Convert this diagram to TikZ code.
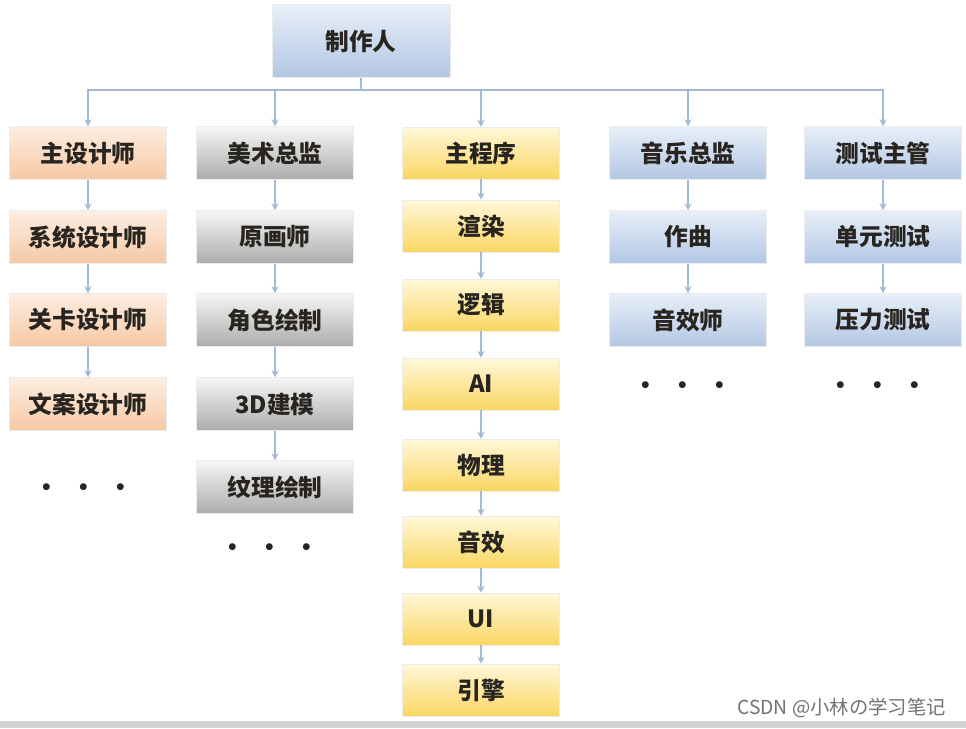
\documentclass[tikz,border=0pt]{standalone}
\usepackage{fontspec}
\setmainfont{Noto Sans CJK SC}
\usepackage{xcolor}
\usetikzlibrary{arrows.meta, positioning, calc}
\definecolor{bluetop}{RGB}{232, 239, 248}
\definecolor{bluebot}{RGB}{178, 199, 228}
\definecolor{peachtop}{RGB}{253, 238, 226}
\definecolor{peachbot}{RGB}{246, 200, 164}
\definecolor{greytop}{RGB}{246, 246, 246}
\definecolor{greybot}{RGB}{172, 172, 172}
\definecolor{yellowtop}{RGB}{255, 248, 218}
\definecolor{yellowbot}{RGB}{250, 214, 98}
\definecolor{linkblue}{RGB}{160, 186, 216}
\definecolor{inkdark}{RGB}{40, 36, 32}

\begin{document}
\begin{tikzpicture}[x=0.02cm, y=-0.02cm,
  rbox/.style={rectangle, minimum width=3.14cm, minimum height=1.06cm,
    font=\fontsize{13.5pt}{15pt}\selectfont\bfseries, text=inkdark,
    text centered, inner sep=2pt, draw=white!85!gray, line width=0.3pt},
  bluebox/.style={rbox, top color=bluetop, bottom color=bluebot},
  peachbox/.style={rbox, top color=peachtop, bottom color=peachbot},
  greybox/.style={rbox, top color=greytop, bottom color=greybot},
  yellowbox/.style={rbox, top color=yellowtop, bottom color=yellowbot,
    minimum height=1.04cm},
  arr/.style={-{Stealth[length=4pt, width=4pt]}, line width=1pt, color=linkblue},
  more/.style={font=\fontsize{14pt}{15pt}\selectfont\bfseries, text=inkdark}
]
\useasboundingbox (0,0) rectangle (966,728);
\fill[white] (0,0) rectangle (966,728);
\fill[black!18] (0,721) rectangle (966,728);

% top
\node[bluebox, minimum width=3.56cm, minimum height=1.46cm] at (361, 41) (boss) {制作人};

% column heads
\node[peachbox]  at (88,  153) (design) {主设计师};
\node[greybox]   at (275, 153) (art)    {美术总监};
\node[yellowbox] at (481, 153) (prog)   {主程序};
\node[bluebox]   at (688, 153) (music)  {音乐总监};
\node[bluebox]   at (883, 153) (test)   {测试主管};
\foreach \h in {design, art, prog, music, test}
  \draw[arr] (boss.south) -- ++(0,12) -| (\h.north);

% design column
\node[peachbox] at (88, 237) (sysd)  {系统设计师};
\node[peachbox] at (88, 320) (leveld) {关卡设计师};
\node[peachbox] at (88, 404) (textd) {文案设计师};
\draw[arr] (design.south) -- (sysd.north);
\draw[arr] (sysd.south)   -- (leveld.north);
\draw[arr] (leveld.south) -- (textd.north);
\node[more] at (84, 490) {\textbullet\enspace\textbullet\enspace\textbullet};

% art column
\node[greybox] at (275, 237) (concept) {原画师};
\node[greybox] at (275, 320) (chars)   {角色绘制};
\node[greybox] at (275, 404) (model)   {3D建模};
\node[greybox] at (275, 487) (texture) {纹理绘制};
\draw[arr] (art.south)     -- (concept.north);
\draw[arr] (concept.south) -- (chars.north);
\draw[arr] (chars.south)   -- (model.north);
\draw[arr] (model.south)   -- (texture.north);
\node[more] at (270, 550) {\textbullet\enspace\textbullet\enspace\textbullet};

% program column
\node[yellowbox] at (481, 226) (render)  {渲染};
\node[yellowbox] at (481, 305) (logic)   {逻辑};
\node[yellowbox] at (481, 384) (ai)      {AI};
\node[yellowbox] at (481, 465) (physics) {物理};
\node[yellowbox] at (481, 542) (sound)   {音效};
\node[yellowbox] at (481, 619) (ui)      {UI};
\node[yellowbox] at (481, 690) (engine)  {引擎};
\draw[arr] (prog.south)    -- (render.north);
\draw[arr] (render.south)  -- (logic.north);
\draw[arr] (logic.south)   -- (ai.north);
\draw[arr] (ai.south)      -- (physics.north);
\draw[arr] (physics.south) -- (sound.north);
\draw[arr] (sound.south)   -- (ui.north);
\draw[arr] (ui.south)      -- (engine.north);

% music column
\node[bluebox] at (688, 237) (compose) {作曲};
\node[bluebox] at (688, 320) (sfx)     {音效师};
\draw[arr] (music.south)   -- (compose.north);
\draw[arr] (compose.south) -- (sfx.north);
\node[more] at (683, 388) {\textbullet\enspace\textbullet\enspace\textbullet};

% test column
\node[bluebox] at (883, 237) (unit)   {单元测试};
\node[bluebox] at (883, 320) (stress) {压力测试};
\draw[arr] (test.south) -- (unit.north);
\draw[arr] (unit.south) -- (stress.north);
\node[more] at (878, 388) {\textbullet\enspace\textbullet\enspace\textbullet};

\node[font=\fontsize{11pt}{12pt}\selectfont, text=black!55, anchor=east] at (952, 708) (mark) {CSDN @小林の学习笔记};
\end{tikzpicture}
\end{document}
